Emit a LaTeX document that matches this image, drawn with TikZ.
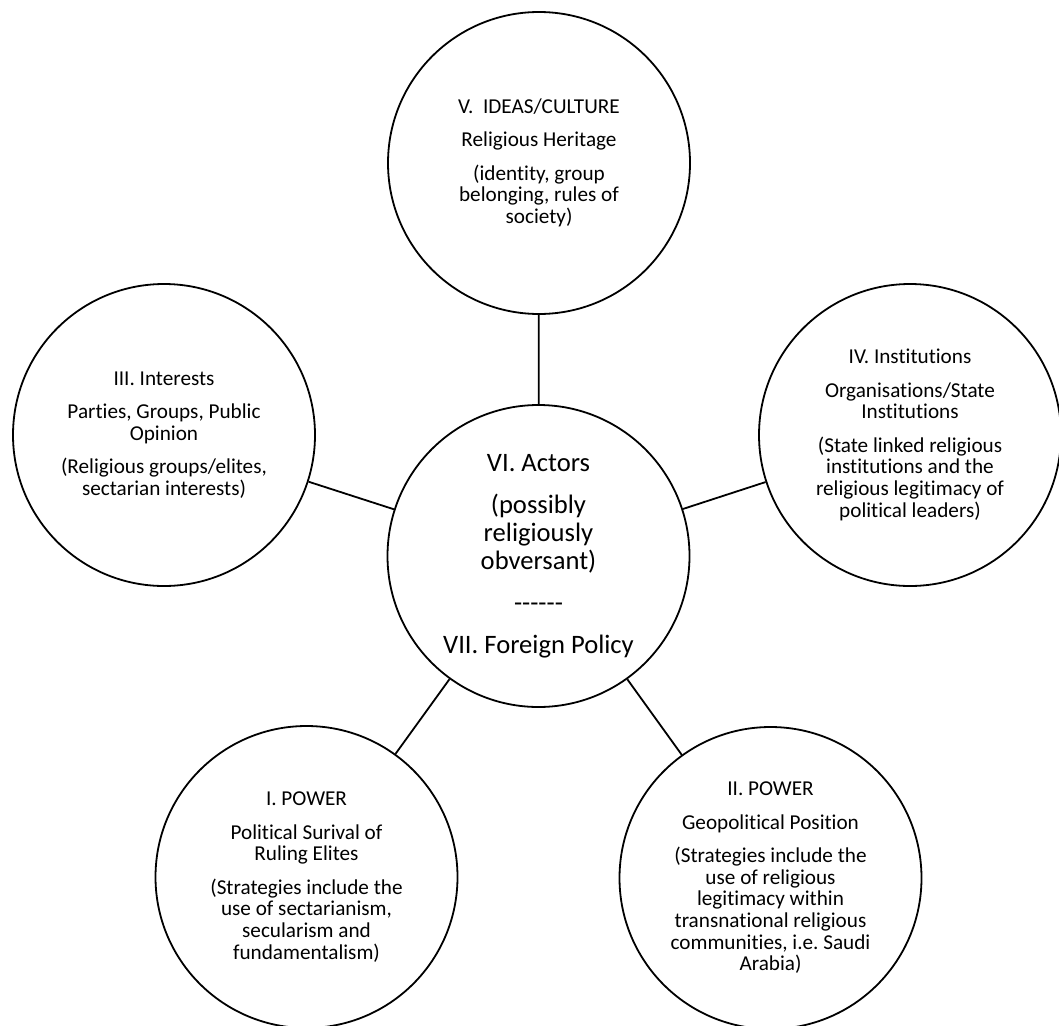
\documentclass[tikz,border=0pt]{standalone}
\usepackage{fontspec}
\setmainfont{Carlito}[Ligatures={NoCommon,NoContextual}]
\frenchspacing
\begin{document}
\begin{tikzpicture}[x=1pt, y=-1pt,
  topic/.style={circle, draw=black, line width=1.8pt, minimum size=302pt,
    inner sep=0pt, align=center, font=\fontsize{21.2}{21.7}\selectfont},
  core/.style={topic, font=\fontsize{26.6}{28}\selectfont},
  link/.style={draw=black, line width=1.8pt}]
\useasboundingbox (0,0) rectangle (1059,1025);

% central actors circle
\node[core] (actors) at (538.5,556)
  {VI. Actors\\[14pt](possibly\\religiously\\obversant)\\[14pt]-{}-{}-{}-{}-{}-\\[14pt]VII. Foreign Policy};

% surrounding factors
\node[topic] (ideas) at (539,163)
  {V.\ \ IDEAS/CULTURE\\[11.6pt]Religious Heritage\\[11.6pt](identity, group\\belonging, rules of\\society)};
\node[topic] (interests) at (164,435)
  {III. Interests\\[11.6pt]Parties, Groups, Public\\Opinion\\[11.6pt](Religious groups/elites,\\sectarian interests)};
\node[topic] (institutions) at (910,435)
  {IV. Institutions\\[11.6pt]Organisations/State\\Institutions\\[11.6pt](State linked religious\\institutions and the\\religious legitimacy of\\political leaders)};
\node[topic] (survival) at (306.5,877)
  {I. POWER\\[11.6pt]Political Surival of\\Ruling Elites\\[11.6pt](Strategies include the\\use of sectarianism,\\secularism and\\fundamentalism)};
\node[topic] (geopolitics) at (770.5,878)
  {II. POWER\\[11.6pt]Geopolitical Position\\[11.6pt](Strategies include the\\use of religious\\legitimacy within\\transnational religious\\communities, i.e. Saudi\\Arabia)};

% spokes
\draw[link] (ideas) -- (actors);
\draw[link] (interests) -- (actors);
\draw[link] (institutions) -- (actors);
\draw[link] (survival) -- (actors);
\draw[link] (geopolitics) -- (actors);
\end{tikzpicture}
\end{document}
